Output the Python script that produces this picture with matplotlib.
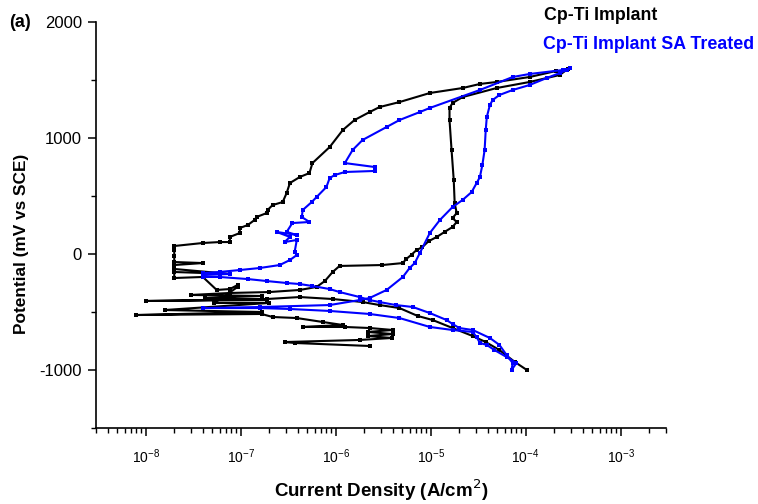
import matplotlib
matplotlib.use("Agg")
import matplotlib.pyplot as plt
from matplotlib.ticker import FixedLocator, MultipleLocator

plt.rcParams["font.family"] = ["Liberation Sans", "DejaVu Sans"]
plt.rcParams["axes.unicode_minus"] = False

# Cp-Ti Implant: forward scan (cathodic -> anodic)
ti_fwd_i = [1.03e-4, 7.7e-5, 5.3e-5, 3.8e-5, 2.77e-5, 1.7e-5, 1.05e-5, 7.3e-6, 4.7e-6,
            2.9e-6, 1.92e-6, 9.3e-7, 4.2e-7, 1.88e-7, 1.0e-8, 1.88e-7, 4.2e-8, 1.66e-7,
            3.0e-8, 7.7e-8, 2.0e-7, 4.2e-7, 6.3e-7, 7.7e-7, 9.3e-7, 1.1e-6, 3.1e-6,
            5.1e-6, 5.5e-6, 6.3e-6, 7.1e-6, 8.2e-6, 9.5e-6, 1.16e-5, 1.4e-5, 1.7e-5,
            1.88e-5, 1.7e-5, 1.88e-5, 1.79e-5, 1.75e-5, 1.66e-5, 1.58e-5, 1.58e-5,
            1.7e-5, 2.17e-5, 4.95e-5, 1.1e-4, 2.28e-4, 2.77e-4]
ti_fwd_e = [-1000, -931, -828, -759, -707, -638, -569, -534, -466,
            -440, -414, -388, -371, -388, -405, -397, -379, -362,
            -353, -336, -328, -310, -284, -233, -155, -103, -95,
            -78, -45, -5, 34, 60, 110, 147, 190, 233,
            276, 310, 353, 440, 638, 897, 1155, 1259,
            1302, 1353, 1431, 1483, 1543, 1595]

# Cp-Ti Implant: reverse scan
ti_rev_i = [2.1e-4, 1.1e-4, 4.95e-5, 3.3e-5, 2.17e-5, 9.8e-6, 4.7e-6, 2.9e-6, 2.28e-6,
            1.58e-6, 1.19e-6, 8.65e-7, 5.7e-7, 5.3e-7, 4.2e-7, 3.3e-7, 3.05e-7, 2.77e-7,
            2.17e-7, 1.92e-7, 1.88e-7, 1.47e-7, 1.4e-7, 1.19e-7, 9.8e-8, 9.8e-8, 7.7e-8,
            7.7e-8, 6.0e-8, 4.0e-8, 2.0e-8, 2.0e-8, 2.0e-8, 2.0e-8, 4.0e-8, 2.0e-8,
            2.0e-8, 7.7e-8, 2.0e-8, 2.0e-8, 4.0e-8, 5.6e-8, 7.7e-8, 9.3e-8, 9.3e-8,
            5.3e-8, 2.0e-7, 1.58e-8, 1.66e-7, 8.0e-9, 1.66e-7, 2.17e-7, 3.9e-7, 7.3e-7,
            1.19e-6, 4.5e-7, 1.25e-6, 2.28e-6, 4.0e-6, 2.17e-6, 4.0e-6, 2.17e-6, 3.9e-6,
            1.79e-6, 2.9e-7, 3.7e-7, 2.28e-6]
ti_rev_e = [1578, 1526, 1483, 1466, 1431, 1388, 1310, 1267, 1224,
            1155, 1069, 922, 784, 698, 664, 612, 526, 448,
            422, 379, 353, 319, 293, 250, 224, 181, 147,
            103, 103, 95, 69, 34, -17, -69, -78, -95,
            -129, -172, -155, -207, -198, -310, -302, -267, -284,
            -422, -422, -483, -500, -526, -517, -543, -552, -586,
            -612, -629, -629, -638, -655, -672, -690, -707, -724,
            -741, -759, -767, -793]

# Cp-Ti Implant SA Treated: forward scan
sa_fwd_i = [7.1e-5, 8.0e-5, 6.3e-5, 4.7e-5, 3.9e-5, 3.3e-5, 3.05e-5, 2.77e-5, 1.7e-5,
            9.8e-6, 4.7e-6, 2.28e-6, 8.65e-7, 3.3e-7, 1.58e-7, 4.0e-8, 1.58e-7, 8.65e-7,
            1.79e-6, 2.28e-6, 3.44e-6, 5.1e-6, 6.0e-6, 6.8e-6, 7.7e-6, 9.8e-6, 1.25e-5,
            1.7e-5, 2.17e-5, 2.7e-5, 3.05e-5, 3.3e-5, 3.5e-5, 3.7e-5, 3.8e-5, 3.9e-5,
            4.2e-5, 4.5e-5, 5.3e-5, 7.3e-5, 1.1e-4, 1.66e-4, 2.28e-4, 2.7e-4, 2.9e-4]
sa_fwd_e = [-1000, -940, -888, -828, -784, -767, -716, -672, -655,
            -629, -552, -517, -491, -474, -466, -466, -457, -440,
            -397, -379, -310, -198, -121, -78, 9, 181, 293,
            405, 466, 534, 612, 664, 767, 897, 1069, 1181,
            1284, 1328, 1371, 1414, 1457, 1517, 1560, 1586, 1603]

# Cp-Ti Implant SA Treated: reverse scan
sa_rev_i = [2.45e-4, 1.1e-4, 7.3e-5, 3.3e-5, 9.8e-6, 7.7e-6, 4.7e-6, 3.44e-6, 1.92e-6,
            1.51e-6, 1.25e-6, 2.58e-6, 2.58e-6, 1.25e-6, 9.8e-7, 8.65e-7, 8.0e-7, 6.3e-7,
            5.6e-7, 4.5e-7, 4.4e-7, 5.3e-7, 3.5e-7, 3.05e-7, 3.9e-7, 2.4e-7, 3.3e-7,
            2.9e-7, 3.9e-7, 3.7e-7, 3.9e-7, 3.3e-7, 2.58e-7, 1.58e-7, 9.8e-8, 6.0e-8,
            4.0e-8, 7.7e-8, 4.0e-8, 4.0e-8, 6.0e-8, 1.19e-7, 1.88e-7, 3.05e-7, 4.2e-7,
            5.7e-7, 8.65e-7, 1.1e-6, 1.79e-6, 2.28e-6, 2.9e-6, 4.3e-6, 6.5e-6, 9.8e-6,
            1.47e-5, 1.7e-5, 2.0e-5, 2.77e-5, 4.2e-5, 5.3e-5, 6.3e-5, 7.3e-5, 7.1e-5]
sa_rev_e = [1586, 1552, 1526, 1414, 1259, 1224, 1155, 1095, 983,
            897, 784, 750, 716, 707, 681, 655, 578, 491,
            448, 379, 319, 276, 267, 190, 164, 190, 147,
            103, 121, 17, -9, -52, -95, -121, -138, -155,
            -164, -172, -181, -198, -198, -216, -233, -250, -259,
            -276, -302, -328, -371, -397, -414, -440, -457, -509,
            -569, -603, -638, -655, -724, -784, -871, -940, -1000]

x_major = [1e-8, 1e-7, 1e-6, 1e-5, 1e-4, 1e-3]
x_minor = [m * 10.0 ** p for p in range(-9, -2) for m in range(2, 10)
           if 3e-9 <= m * 10.0 ** p <= 3e-3]

fig = plt.figure(figsize=(7.58, 5.04), dpi=100)
ax = fig.add_axes([0.1266, 0.1508, 0.752, 0.8055])

style = dict(linewidth=1.5, marker="s", markersize=2.8, markeredgewidth=0)
ax.plot(ti_fwd_i, ti_fwd_e, color="black", **style)
ax.plot(ti_rev_i, ti_rev_e, color="black", **style)
ax.plot(sa_fwd_i, sa_fwd_e, color="#0000ff", **style)
ax.plot(sa_rev_i, sa_rev_e, color="#0000ff", **style)

ax.set_xscale("log")
ax.set_xlim(3e-9, 3e-3)
ax.set_ylim(-1500, 2000)
ax.set_yticks([-1000, 0, 1000, 2000])
ax.yaxis.set_minor_locator(MultipleLocator(500))
ax.xaxis.set_major_locator(FixedLocator(x_major))
ax.xaxis.set_minor_locator(FixedLocator(x_minor))

for s in ["top", "right"]:
    ax.spines[s].set_visible(False)
for s in ["left", "bottom"]:
    ax.spines[s].set_linewidth(1.2)
ax.tick_params(which="major", length=6, width=1.1, pad=4)
ax.tick_params(which="minor", length=3.5, width=1.0)
ax.tick_params(axis="y", labelsize=12)
ax.tick_params(axis="x", which="major", labelsize=10, pad=8)

ax.set_xlabel("Current Density (A/cm$^2$)", fontsize=13.5, fontweight="bold")
ax.xaxis.set_label_coords(0.5, -0.122)
ax.set_ylabel("Potential (mV vs SCE)", fontsize=12.4, fontweight="bold")
ax.yaxis.set_label_coords(-0.117, 0.453)

fig.text(0.012, 0.955, "(a)", fontsize=13, fontweight="bold", va="center")
fig.text(0.718, 0.970, "Cp-Ti Implant", fontsize=12.8, fontweight="bold", color="black", va="center")
fig.text(0.716, 0.911, "Cp-Ti Implant SA Treated", fontsize=12.8, fontweight="bold", color="#0000ff", va="center")

fig.savefig("out.png", dpi=100)
